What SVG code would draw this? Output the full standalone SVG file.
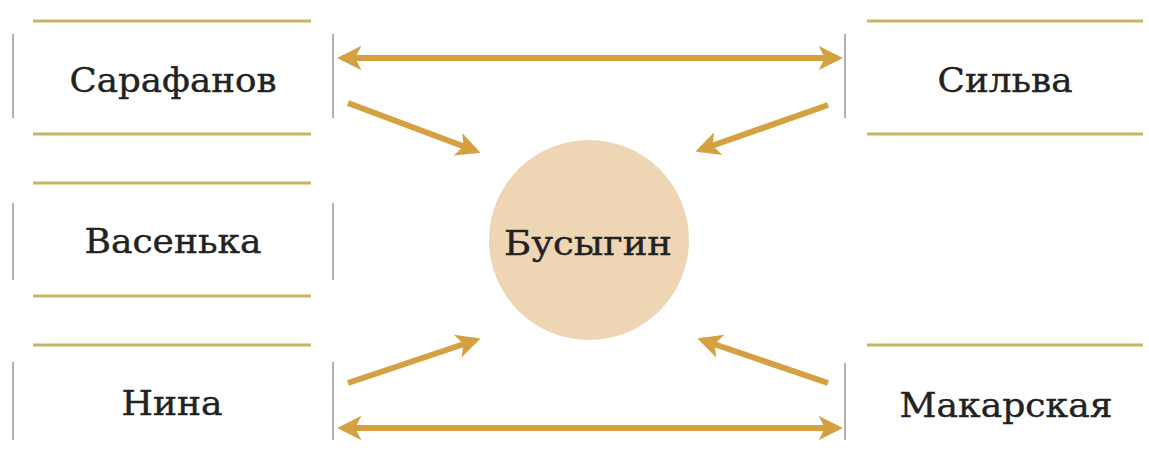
<svg xmlns="http://www.w3.org/2000/svg" width="1149" height="450" viewBox="0 0 1149 450">
<style>
.h{stroke:#c8b466;stroke-width:3;fill:none}
.v{stroke:#9a9a9a;stroke-width:1.5;fill:none}
.t{font-family:"DejaVu Serif",serif;font-size:34px;fill:#222;stroke:#222;stroke-width:0.4;text-anchor:middle}
.c{stroke:#d4a040;stroke-width:6;fill:none}
</style>
<defs>
<marker id="ah" viewBox="0 0 10 10" refX="8" refY="5" markerWidth="4" markerHeight="4" orient="auto-start-reverse" markerUnits="strokeWidth">
<path d="M0,0 L10,5 L0,10 L2.5,5 z" fill="#d4a040"/>
</marker>
</defs>
<rect width="1149" height="450" fill="#fff"/>
<g id="sarafanov">
<line class="h" x1="33" y1="21" x2="311" y2="21"/>
<line class="h" x1="33" y1="134" x2="311" y2="134"/>
<line class="v" x1="13" y1="34" x2="13" y2="118"/>
<line class="v" x1="333" y1="34" x2="333" y2="118"/>
<text class="t" x="173" y="92" textLength="207" lengthAdjust="spacingAndGlyphs">Сарафанов</text>
</g>
<g id="vasenka">
<line class="h" x1="33" y1="183" x2="311" y2="183"/>
<line class="h" x1="33" y1="296" x2="311" y2="296"/>
<line class="v" x1="13" y1="203" x2="13" y2="280"/>
<line class="v" x1="333" y1="203" x2="333" y2="280"/>
<text class="t" x="173" y="253" textLength="177" lengthAdjust="spacingAndGlyphs">Васенька</text>
</g>
<g id="nina">
<line class="h" x1="33" y1="345" x2="311" y2="345"/>
<line class="v" x1="13" y1="362" x2="13" y2="440"/>
<line class="v" x1="333" y1="362" x2="333" y2="440"/>
<text class="t" x="172" y="415" textLength="101" lengthAdjust="spacingAndGlyphs">Нина</text>
</g>
<g id="silva">
<line class="h" x1="867" y1="21" x2="1143" y2="21"/>
<line class="h" x1="867" y1="134" x2="1143" y2="134"/>
<line class="v" x1="845" y1="34" x2="845" y2="118"/>
<text class="t" x="1005" y="92" textLength="135" lengthAdjust="spacingAndGlyphs">Сильва</text>
</g>
<g id="makarskaya">
<line class="h" x1="867" y1="345" x2="1143" y2="345"/>
<line class="v" x1="845" y1="363" x2="845" y2="440"/>
<text class="t" x="1006" y="417" textLength="213" lengthAdjust="spacingAndGlyphs">Макарская</text>
</g>
<g id="busygin">
<circle cx="589" cy="240" r="100" fill="#eed6b4"/>
<text class="t" x="588" y="255" textLength="168" lengthAdjust="spacingAndGlyphs">Бусыгин</text>
</g>
<g id="connectors">
<line class="c" x1="342" y1="58" x2="838" y2="58" marker-start="url(#ah)" marker-end="url(#ah)"/>
<line class="c" x1="342" y1="428" x2="838" y2="428" marker-start="url(#ah)" marker-end="url(#ah)"/>
<line class="c" x1="348" y1="103" x2="476" y2="151" marker-end="url(#ah)"/>
<line class="c" x1="828" y1="105" x2="700" y2="150" marker-end="url(#ah)"/>
<line class="c" x1="348" y1="383" x2="476" y2="340" marker-end="url(#ah)"/>
<line class="c" x1="828" y1="383" x2="702" y2="340" marker-end="url(#ah)"/>
</g>
</svg>
